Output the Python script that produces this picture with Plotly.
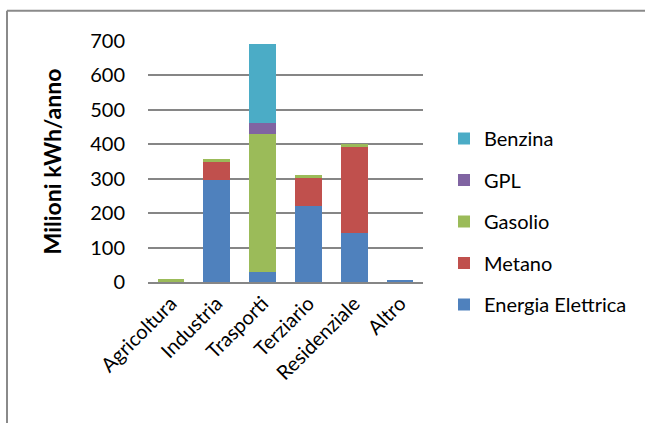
import plotly.graph_objects as go

# Consumo energetico per settore (milioni di kWh/anno)
settori = ["Agricoltura", "Industria", "Trasporti", "Terziario", "Residenziale", "Altro"]

energia_elettrica = [1, 297, 29, 220, 141, 5]
metano = [0, 53, 0, 83, 251, 0]
gasolio = [7, 7, 402, 8, 10, 0]
gpl = [0, 0, 31, 0, 0, 0]
benzina = [0, 0, 229, 0, 0, 0]

serie = [
    ("Energia Elettrica", energia_elettrica, "#4F81BD"),
    ("Metano", metano, "#C0504D"),
    ("Gasolio", gasolio, "#9BBB59"),
    ("GPL", gpl, "#8064A2"),
    ("Benzina", benzina, "#4BACC6"),
]

FONT = "Lato, Open Sans, sans-serif"

fig = go.Figure()
for i, (nome, valori, colore) in enumerate(serie):
    fig.add_trace(go.Bar(
        name=nome,
        x=settori,
        y=valori,
        marker=dict(color=colore, line=dict(width=0)),
        legendgroup=nome,
        legendrank=1000 - i,  # legenda dall'alto: Benzina ... Energia Elettrica
    ))

# area del grafico in pixel
L, R, T, B = 148, 222, 41, 141
W, H = 645, 423
pw, ph = W - L - R, H - T - B

fig.update_layout(
    width=W,
    height=H,
    barmode="stack",
    bargap=0.42,
    margin=dict(l=L, r=R, t=T, b=B, pad=0),
    paper_bgcolor="white",
    plot_bgcolor="white",
    font=dict(family=FONT, size=20, color="#000000"),
    showlegend=True,
    legend=dict(
        traceorder="grouped",
        tracegroupgap=12.5,
        x=(444 - L) / pw,
        xanchor="left",
        y=(282 - 119) / ph,
        yanchor="top",
        font=dict(family=FONT, size=20, color="#000000"),
        itemwidth=30,
        bgcolor="rgba(0,0,0,0)",
    ),
    xaxis=dict(
        tickangle=-45,
        showgrid=False,
        showline=True,
        linecolor="#868686",
        linewidth=2,
        ticks="",
        tickfont=dict(family=FONT, size=20),
    ),
    yaxis=dict(
        range=[0, 700],
        dtick=100,
        showgrid=True,
        gridcolor="#868686",
        gridwidth=2,
        zeroline=False,
        showline=False,
        ticks="",
        ticklabelstandoff=22,
        tickfont=dict(family=FONT, size=20),
        title=dict(
            text="<b>Milioni kWh/anno</b>",
            font=dict(family=FONT, size=23),
            standoff=22,
        ),
    ),
    shapes=[
        # cornice del grafico (bordi superiore e sinistro)
        dict(type="line", xref="paper", yref="paper",
             x0=(7 - L) / pw, x1=(700 - L) / pw,
             y0=(282.3 - 11) / ph, y1=(282.3 - 11) / ph,
             line=dict(color="#8a8a8a", width=2)),
        dict(type="line", xref="paper", yref="paper",
             x0=(7 - L) / pw, x1=(7 - L) / pw,
             y0=(282.3 - 11) / ph, y1=(282.3 - 500) / ph,
             line=dict(color="#8a8a8a", width=2)),
    ],
)

fig.write_html("out.html")
